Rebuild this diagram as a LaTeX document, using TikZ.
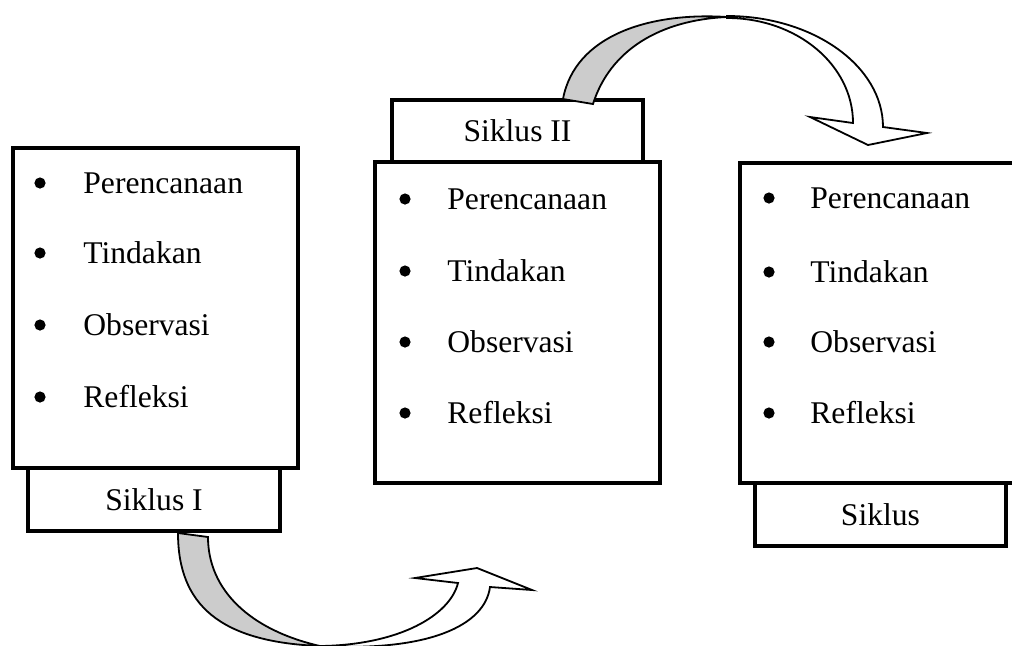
\documentclass[tikz,border=0pt]{standalone}
\usepackage{fontspec}
\setmainfont{Liberation Serif}
\begin{document}
\begin{tikzpicture}[x=0.5pt,y=-0.5pt,
  box/.style={draw=black,line width=1.75pt,fill=white,inner sep=0pt,font=\fontsize{15.8}{19}\selectfont},
  item/.style={anchor=west,inner sep=0pt,font=\fontsize{15.8}{19}\selectfont},
  bul/.style={circle,fill=black,inner sep=0pt,minimum size=5.6pt},
  ribbon/.style={draw=black,line width=0.9pt,line join=miter}]
\useasboundingbox (0,0) rectangle (1012,645);
\clip (0,0) rectangle (1012,645);
% box 1
\node[box,minimum width=142.5pt,minimum height=160pt] (b1) at (155.5,308) {};
\node[box,minimum width=126pt,minimum height=31.5pt] (s1) at (154,499.5) {Siklus I};
% box 2
\node[box,minimum width=142.5pt,minimum height=160.5pt] (b2) at (517.5,322.5) {};
\node[box,minimum width=125.5pt,minimum height=31pt] (s2) at (517.5,131) {Siklus II};
% box 3
\node[box,minimum width=142.5pt,minimum height=160pt] (b3) at (882.5,323) {};
\node[box,minimum width=125.5pt,minimum height=31.5pt] (s3) at (880.5,514.5) {Siklus};
% items box 1
\foreach \y/\t [count=\i] in {183/Perencanaan,253/Tindakan,325/Observasi,397/Refleksi}{
  \node[bul] (d1\i) at (40,\y) {};
  \node[item] (t1\i) at (83,\y) {\t};
}
% items box 2
\foreach \y/\t [count=\i] in {199/Perencanaan,271/Tindakan,342/Observasi,413/Refleksi}{
  \node[bul] (d2\i) at (405,\y) {};
  \node[item] (t2\i) at (447,\y) {\t};
}
% items box 3
\foreach \y/\t [count=\i] in {198/Perencanaan,272/Tindakan,342/Observasi,413/Refleksi}{
  \node[bul] (d3\i) at (769,\y) {};
  \node[item] (t3\i) at (810,\y) {\t};
}
% bottom curved arrow (Siklus I -> box 2)
\draw[ribbon,fill=white] (320,646) .. controls (400,645) and (450,615) .. (458,583)
  -- (415,578) -- (477,568) -- (532,590) -- (490,587)
  .. controls (485,625) and (430,652) .. (320,646) -- cycle;
\draw[ribbon,fill=black!20] (178,533) .. controls (178,605) and (220,642) .. (320,646)
  .. controls (250,630) and (208,590) .. (208,537) -- cycle;
% top curved arrow (Siklus II -> box 3)
\draw[ribbon,fill=white] (727,18) .. controls (797,18) and (853,65) .. (853,123)
  -- (810,117) -- (868,145) -- (927,133) -- (883,127)
  .. controls (883,66) and (813,16) .. (727,16) -- cycle;
\draw[ribbon,fill=black!20] (563,99) .. controls (575,35) and (650,12) .. (727,17)
  .. controls (660,20) and (610,50) .. (593,104) -- cycle;
\end{tikzpicture}
\end{document}
